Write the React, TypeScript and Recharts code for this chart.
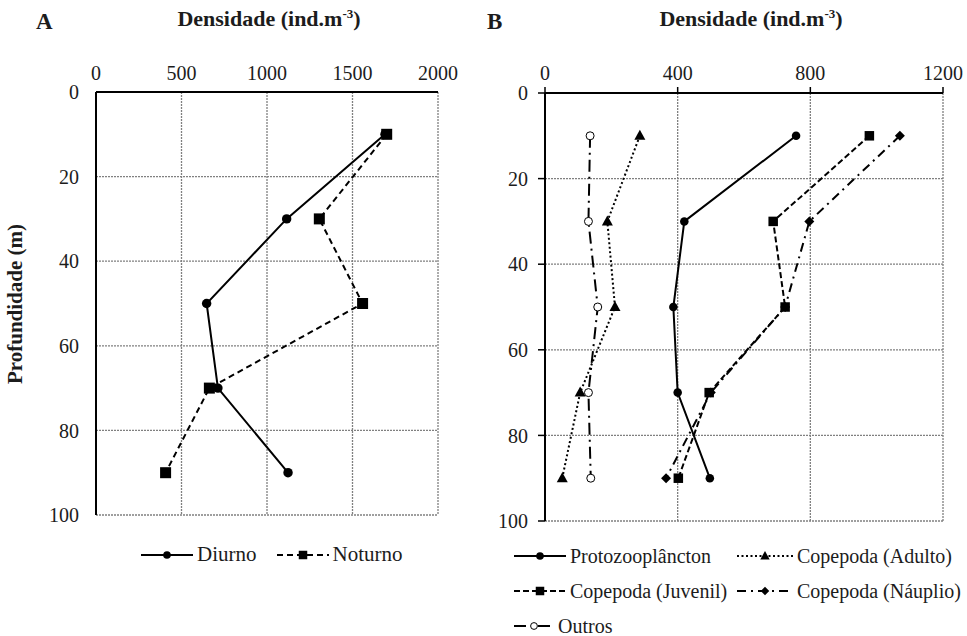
import React from 'react';
import {
  ScatterChart,
  Scatter,
  XAxis,
  YAxis,
  CartesianGrid
} from 'recharts';

// depth of each sample (m)
const depths = [10, 30, 50, 70, 90];

// panel A: total density, day vs night
const diurno = [1690, 1115, 647, 713, 1123];
const noturno = [1700, 1306, 1559, 663, 407];

// panel B: density by group
const protozoo = [757, 420, 387, 400, 497];
const copAdulto = [286, 188, 211, 106, 52];
const copJuvenil = [978, 688, 724, 495, 402];
const copNauplio = [1070, 797, 724, 500, 365];
const outros = [136, 131, 159, 131, 138];

const ticksA = [0, 500, 1000, 1500, 2000];
const ticksB = [0, 400, 800, 1200];
const depthTicks = [0, 20, 40, 60, 80, 100];

const FONT = '"Liberation Serif", "Times New Roman", serif';
const INK = '#1c1c1c';

const toPoints = (values: number[]) =>
  values.map((v, i) => ({ dens: v, depth: depths[i] }));

type MarkerKind = 'circle' | 'square' | 'triangle' | 'diamond' | 'open';

function Marker({ kind, cx, cy, size = 1 }: { kind: MarkerKind; cx: number; cy: number; size?: number }) {
  const s = size;
  switch (kind) {
    case 'circle':
      return <circle cx={cx} cy={cy} r={4.5 * s} fill="#000" />;
    case 'square':
      return <rect x={cx - 5 * s} y={cy - 5 * s} width={10 * s} height={10 * s} fill="#000" />;
    case 'triangle':
      return (
        <polygon
          points={`${cx},${cy - 6 * s} ${cx - 5.5 * s},${cy + 4 * s} ${cx + 5.5 * s},${cy + 4 * s}`}
          fill="#000"
        />
      );
    case 'diamond':
      return (
        <polygon
          points={`${cx},${cy - 5 * s} ${cx + 5 * s},${cy} ${cx},${cy + 5 * s} ${cx - 5 * s},${cy}`}
          fill="#000"
        />
      );
    default:
      return <circle cx={cx} cy={cy} r={4 * s} fill="#fff" stroke="#000" strokeWidth={1} />;
  }
}

const shapeOf = (kind: MarkerKind, size = 1) => (props: any) =>
  <Marker kind={kind} cx={props.cx} cy={props.cy} size={size} />;

interface SeriesDef {
  name: string;
  values: number[];
  marker: MarkerKind;
  dash?: string;
  size?: number;
}

const seriesA: SeriesDef[] = [
  { name: 'Diurno', values: diurno, marker: 'circle', size: 1.05 },
  { name: 'Noturno', values: noturno, marker: 'square', dash: '6 4', size: 1.1 }
];

const seriesB: SeriesDef[] = [
  { name: 'Outros', values: outros, marker: 'open', dash: '12 5 2 5' },
  { name: 'Copepoda (Adulto)', values: copAdulto, marker: 'triangle', dash: '2 2.5' },
  { name: 'Copepoda (Náuplio)', values: copNauplio, marker: 'diamond', dash: '9 5 2 5' },
  { name: 'Copepoda (Juvenil)', values: copJuvenil, marker: 'square', dash: '6 3', size: 0.95 },
  { name: 'Protozooplâncton', values: protozoo, marker: 'circle', size: 0.95 }
];

function LegendItem({ s, lineWidth = 52 }: { s: SeriesDef; lineWidth?: number }) {
  return (
    <span style={{ display: 'inline-flex', alignItems: 'center' }}>
      <svg width={lineWidth} height={14} style={{ marginRight: 4 }}>
        <line
          x1={0}
          y1={7}
          x2={lineWidth}
          y2={7}
          stroke="#000"
          strokeWidth={2}
          strokeDasharray={s.dash}
        />
        <Marker kind={s.marker} cx={lineWidth / 2} cy={7} size={0.85} />
      </svg>
      <span>{s.name}</span>
    </span>
  );
}

const textBase: React.CSSProperties = {
  position: 'absolute',
  fontFamily: FONT,
  color: INK,
  whiteSpace: 'nowrap',
  lineHeight: 1.2
};

const gridProps = {
  stroke: '#808080',
  strokeDasharray: '2 1',
  strokeWidth: 1.3
};

const tickStyle = { fontFamily: FONT, fontSize: 20, fill: INK };

export default function App() {
  return (
    <div style={{ position: 'absolute', left: 0, top: 0, width: 967, height: 636, background: '#fff' }}>
      {/* panel A */}
      <div style={{ position: 'absolute', left: 0, top: 0 }}>
        <ScatterChart width={480} height={636} margin={{ top: 62, right: 42, bottom: 121, left: 56 }}>
          <CartesianGrid {...gridProps} />
          <XAxis
            type="number"
            dataKey="dens"
            orientation="top"
            domain={[0, 2000]}
            ticks={ticksA}
            height={30}
            tickLine={false}
            tickSize={0}
            tickMargin={12}
            axisLine={{ stroke: '#000', strokeWidth: 2 }}
            tick={tickStyle}
            interval={0}
          />
          <YAxis
            type="number"
            dataKey="depth"
            domain={[0, 100]}
            ticks={depthTicks}
            reversed
            width={40}
            tickLine={false}
            tickSize={0}
            tickMargin={17}
            axisLine={{ stroke: '#000', strokeWidth: 2 }}
            tick={tickStyle}
            interval={0}
          />
          {seriesA.map(s => (
            <Scatter
              key={s.name}
              name={s.name}
              data={toPoints(s.values)}
              fill="#000"
              line={{ stroke: '#000', strokeWidth: 2, strokeDasharray: s.dash }}
              lineType="joint"
              shape={shapeOf(s.marker, s.size)}
              isAnimationActive={false}
            />
          ))}
        </ScatterChart>
      </div>

      {/* panel B */}
      <div style={{ position: 'absolute', left: 480, top: 0 }}>
        <ScatterChart width={487} height={636} margin={{ top: 63, right: 24, bottom: 115, left: 25 }}>
          <CartesianGrid {...gridProps} />
          <XAxis
            type="number"
            dataKey="dens"
            orientation="top"
            domain={[0, 1200]}
            ticks={ticksB}
            height={30}
            tickSize={6}
            tickMargin={7}
            tickLine={{ stroke: '#000', strokeWidth: 1.5 }}
            axisLine={{ stroke: '#000', strokeWidth: 2 }}
            tick={tickStyle}
            interval={0}
          />
          <YAxis
            type="number"
            dataKey="depth"
            domain={[0, 100]}
            ticks={depthTicks}
            reversed
            width={40}
            tickSize={7}
            tickMargin={10}
            tickLine={{ stroke: '#000', strokeWidth: 1.5 }}
            axisLine={{ stroke: '#000', strokeWidth: 2 }}
            tick={tickStyle}
            interval={0}
          />
          {seriesB.map(s => (
            <Scatter
              key={s.name}
              name={s.name}
              data={toPoints(s.values)}
              fill="#000"
              line={{ stroke: '#000', strokeWidth: 2, strokeDasharray: s.dash }}
              lineType="joint"
              shape={shapeOf(s.marker, s.size)}
              isAnimationActive={false}
            />
          ))}
        </ScatterChart>
      </div>

      {/* titles */}
      <div style={{ ...textBase, left: 36, top: 8, fontSize: 23, fontWeight: 'bold' }}>A</div>
      <div style={{ ...textBase, left: 487, top: 8, fontSize: 23, fontWeight: 'bold' }}>B</div>
      <div style={{ ...textBase, left: 269, top: 6, fontSize: 22, fontWeight: 'bold', transform: 'translateX(-50%)' }}>
        Densidade (ind.m<sup style={{ fontSize: 13 }}>-3</sup>)
      </div>
      <div style={{ ...textBase, left: 751, top: 6, fontSize: 22, fontWeight: 'bold', transform: 'translateX(-50%)' }}>
        Densidade (ind.m<sup style={{ fontSize: 13 }}>-3</sup>)
      </div>
      <div
        style={{
          ...textBase,
          left: 16,
          top: 304,
          fontSize: 21,
          fontWeight: 'bold',
          transform: 'translate(-50%, -50%) rotate(-90deg)'
        }}
      >
        Profundidade (m)
      </div>

      {/* legend A */}
      <div style={{ ...textBase, left: 141, top: 542, fontSize: 21, display: 'flex', gap: 20 }}>
        <LegendItem s={seriesA[0]} />
        <LegendItem s={seriesA[1]} />
      </div>

      {/* legend B */}
      <div style={{ ...textBase, left: 514, top: 544, fontSize: 20 }}>
        <LegendItem s={seriesB[4]} />
      </div>
      <div style={{ ...textBase, left: 737, top: 544, fontSize: 20 }}>
        <LegendItem s={seriesB[1]} lineWidth={56} />
      </div>
      <div style={{ ...textBase, left: 514, top: 579, fontSize: 20 }}>
        <LegendItem s={seriesB[3]} />
      </div>
      <div style={{ ...textBase, left: 737, top: 579, fontSize: 20 }}>
        <LegendItem s={seriesB[2]} lineWidth={56} />
      </div>
      <div style={{ ...textBase, left: 514, top: 614, fontSize: 20 }}>
        <LegendItem s={seriesB[0]} lineWidth={40} />
      </div>
    </div>
  );
}
